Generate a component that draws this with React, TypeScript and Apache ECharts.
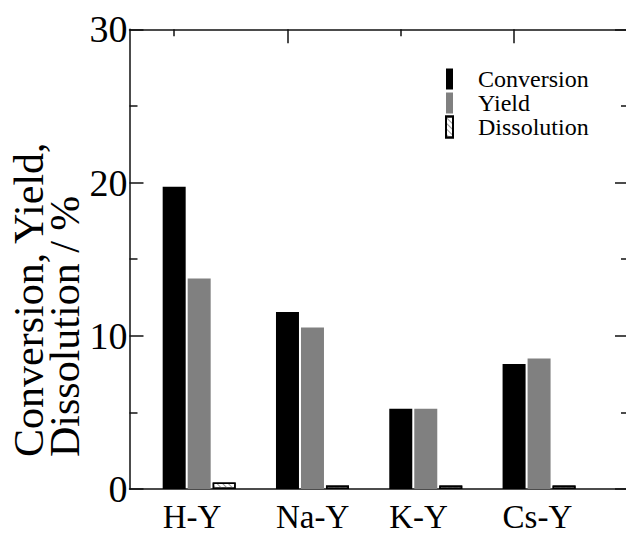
import React, { useEffect, useRef } from "react";
import * as echarts from "echarts";

const categories = ["H-Y", "Na-Y", "K-Y", "Cs-Y"];
const conversion = [19.72, 11.55, 5.24, 8.15];
const yieldValues = [13.74, 10.54, 5.24, 8.52];
const dissolution = [0.43, 0.23, 0.23, 0.23];
const seriesNames = ["Conversion", "Yield", "Dissolution"];
const yMin = 0;
const yMax = 30;
const yInterval = 10;

const FONT = "'Liberation Serif', 'Times New Roman', serif";

export default function App() {
  const ref = useRef<HTMLDivElement>(null);
  useEffect(() => {
    if (!ref.current) return;
    const chart = echarts.init(ref.current, undefined, { renderer: "svg" });

    const W = 640;
    const H = 533;
    const gridLeft = 129.5;
    const gridRightPx = 629;
    const gridTop = 29.3;
    const gridBottomPx = 489.3;
    const plotW = gridRightPx - gridLeft;
    const pxPerUnit = 113.3;
    const xMin = 0.385;
    const xMax = xMin + plotW / pxPerUnit;
    const barW = 23;
    const gapPx = 2;
    const labelShift = (1.5 * barW + gapPx) / pxPerUnit;
    const tickShift = (barW + gapPx) / pxPerUnit;
    const xPos = categories.map((_, i) => i + 1);

    const axisColor = "#111";
    const common = {
      type: "value",
      splitLine: { show: false },
    };

    chart.setOption({
      animation: false,
      backgroundColor: "#fff",
      grid: {
        left: gridLeft,
        right: W - gridRightPx,
        top: gridTop,
        bottom: H - gridBottomPx,
        containLabel: false,
      },
      legend: {
        data: seriesNames,
        orient: "vertical",
        left: 445,
        top: 67,
        padding: 0,
        icon: "rect",
        itemWidth: 7,
        itemHeight: 21,
        itemGap: 0,
        selectedMode: false,
        textStyle: {
          fontFamily: FONT,
          fontSize: 24,
          lineHeight: 12,
          color: "#000",
          padding: [12, 0, 0, 20],
        },
      },
      xAxis: [
        {
          ...common,
          min: xMin,
          max: xMax,
          position: "bottom",
          axisLine: { show: true, lineStyle: { color: axisColor, width: 1.5 } },
          axisTick: { show: false },
          axisLabel: { show: false },
        },
        {
          ...common,
          min: xMin + labelShift,
          max: xMax + labelShift,
          position: "bottom",
          axisLine: { show: false },
          axisTick: { show: false },
          axisLabel: {
            show: true,
            customValues: xPos,
            formatter: (v: number) => categories[Math.round(v) - 1] ?? "",
            align: "left",
            margin: 11,
            fontFamily: FONT,
            fontSize: 33,
            color: "#000",
          },
        },
        {
          ...common,
          min: xMin + tickShift,
          max: xMax + tickShift,
          position: "top",
          axisLine: { show: true, lineStyle: { color: axisColor, width: 1.5 } },
          axisTick: {
            show: true,
            inside: true,
            length: 14,
            customValues: [2, 4],
            lineStyle: { color: axisColor, width: 1.5 },
          },
          axisLabel: { show: false },
        },
        {
          ...common,
          min: xMin + tickShift,
          max: xMax + tickShift,
          position: "top",
          axisLine: { show: false },
          axisTick: {
            show: true,
            inside: true,
            length: 7,
            customValues: [1, 3],
            lineStyle: { color: axisColor, width: 1.5 },
          },
          axisLabel: { show: false },
        },
      ],
      yAxis: [
        {
          ...common,
          min: yMin,
          max: yMax,
          interval: yInterval,
          position: "left",
          axisLine: { show: true, lineStyle: { color: axisColor, width: 1.5 } },
          axisTick: { show: true, inside: true, length: 14, lineStyle: { color: axisColor, width: 1.5 } },
          minorTick: { show: true, splitNumber: 2, length: 8, lineStyle: { color: axisColor, width: 1.5 } },
          minorSplitLine: { show: false },
          axisLabel: {
            show: true,
            margin: 2,
            fontFamily: FONT,
            fontSize: 38,
            color: "#000",
            padding: [0, 0, 4, 0],
          },
        },
        {
          ...common,
          min: yMin,
          max: yMax,
          interval: yInterval,
          position: "right",
          axisLine: { show: true, lineStyle: { color: axisColor, width: 1.5 } },
          axisTick: { show: true, inside: true, length: 14, lineStyle: { color: axisColor, width: 1.5 } },
          minorTick: { show: true, splitNumber: 2, length: 8, lineStyle: { color: axisColor, width: 1.5 } },
          minorSplitLine: { show: false },
          axisLabel: { show: false },
        },
      ],
      graphic: [
        {
          type: "text",
          x: 28.5,
          y: 457,
          rotation: Math.PI / 2,
          style: {
            text: "Conversion, Yield,",
            fontFamily: FONT,
            fontSize: 42,
            fill: "#000",
            align: "left",
            verticalAlign: "middle",
          },
        },
        {
          type: "text",
          x: 64.5,
          y: 457,
          rotation: Math.PI / 2,
          style: {
            text: "Dissolution / %",
            fontFamily: FONT,
            fontSize: 42,
            fill: "#000",
            align: "left",
            verticalAlign: "middle",
          },
        },
      ],
      series: [
        {
          type: "bar",
          name: seriesNames[0],
          xAxisIndex: 0,
          yAxisIndex: 0,
          barWidth: barW,
          barGap: `${(gapPx / barW) * 100}%`,
          data: xPos.map((x, i) => [x, conversion[i]]),
          itemStyle: { color: "#000" },
        },
        {
          type: "bar",
          name: seriesNames[1],
          xAxisIndex: 0,
          yAxisIndex: 0,
          barWidth: barW,
          barGap: `${(gapPx / barW) * 100}%`,
          data: xPos.map((x, i) => [x, yieldValues[i]]),
          itemStyle: { color: "#808080" },
        },
        {
          type: "bar",
          name: seriesNames[2],
          xAxisIndex: 0,
          yAxisIndex: 0,
          barWidth: barW,
          barGap: `${(gapPx / barW) * 100}%`,
          data: xPos.map((x, i) => [x, dissolution[i]]),
          itemStyle: {
            color: "#fff",
            borderColor: "#000",
            borderWidth: 1.5,
            decal: {
              symbol: "rect",
              symbolSize: 1,
              dashArrayX: [1, 0],
              dashArrayY: [1, 3],
              rotation: Math.PI / 4,
              color: "#999",
            },
          },
        },
      ],
    });
    return () => chart.dispose();
  }, []);

  return (
    <div
      style={{
        position: "fixed",
        left: 0,
        top: 0,
        width: 626,
        height: 533,
        overflow: "hidden",
        background: "#fff",
      }}
    >
      <div ref={ref} style={{ width: 640, height: 533 }} />
    </div>
  );
}
